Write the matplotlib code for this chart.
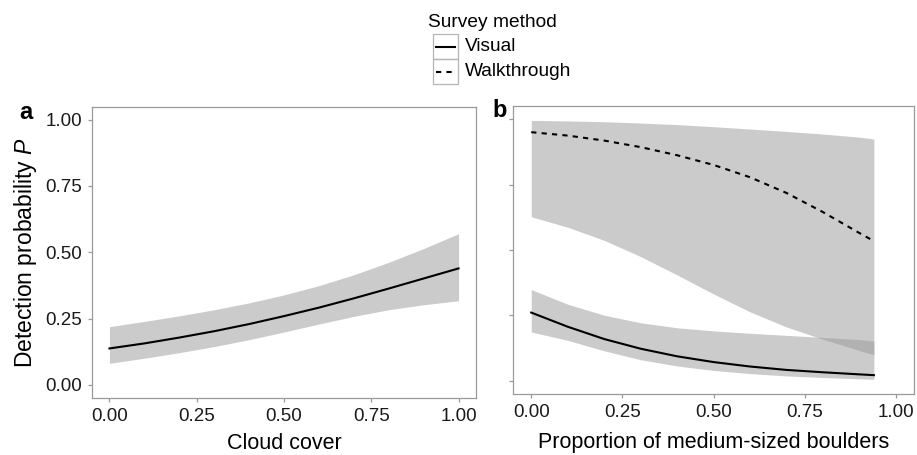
import matplotlib
matplotlib.use("Agg")
import matplotlib.pyplot as plt
from matplotlib.lines import Line2D
from matplotlib.patches import Rectangle

plt.rcParams['font.family'] = ['Liberation Sans', 'DejaVu Sans']
plt.rcParams['mathtext.fontset'] = 'custom'
plt.rcParams['mathtext.it'] = 'Liberation Sans:italic'
plt.rcParams['mathtext.rm'] = 'Liberation Sans'

# Panel a: cloud cover
cloud_x = [0.0, 0.1, 0.2, 0.3, 0.4, 0.5, 0.6, 0.7, 0.8, 0.9, 1.0]
cloud_fit = [0.137, 0.156, 0.178, 0.202, 0.229, 0.259, 0.291, 0.326, 0.363, 0.401, 0.439]
cloud_upper = [0.219, 0.239, 0.260, 0.283, 0.309, 0.339, 0.374, 0.415, 0.462, 0.514, 0.570]
cloud_lower = [0.081, 0.100, 0.121, 0.144, 0.170, 0.199, 0.229, 0.258, 0.283, 0.302, 0.317]

# Panel b: proportion of medium-sized boulders
boulder_x = [0.0, 0.1, 0.2, 0.3, 0.4, 0.5, 0.6, 0.7, 0.8, 0.9, 0.94]
visual_fit = [0.261, 0.207, 0.160, 0.123, 0.094, 0.072, 0.055, 0.042, 0.033, 0.025, 0.022]
visual_upper = [0.349, 0.293, 0.251, 0.222, 0.203, 0.191, 0.182, 0.174, 0.166, 0.158, 0.152]
visual_lower = [0.187, 0.155, 0.115, 0.081, 0.057, 0.040, 0.028, 0.019, 0.013, 0.008, 0.006]
walk_fit = [0.950, 0.937, 0.918, 0.893, 0.862, 0.825, 0.778, 0.718, 0.645, 0.565, 0.534]
walk_upper = [0.995, 0.993, 0.990, 0.985, 0.979, 0.971, 0.962, 0.953, 0.943, 0.931, 0.924]
walk_lower = [0.627, 0.587, 0.537, 0.475, 0.405, 0.332, 0.264, 0.206, 0.159, 0.116, 0.100]

ticks = [0.0, 0.25, 0.5, 0.75, 1.0]
tick_labels = ["0.00", "0.25", "0.50", "0.75", "1.00"]
legend_labels = ["Visual", "Walkthrough"]

W, H = 917, 455
fig = plt.figure(figsize=(W / 100, H / 100), dpi=100)

def fx(px):
    return px / W

def fy(py):
    return 1 - py / H

axa = fig.add_axes([fx(92), fy(398), fx(476) - fx(92), fy(106.5) - fy(398)])
axb = fig.add_axes([fx(513), fy(394), fx(914) - fx(513), fy(106) - fy(394)])

band_kw = dict(color='#999999', alpha=0.5, linewidth=0)

axa.fill_between(cloud_x, cloud_lower, cloud_upper, **band_kw)
axa.plot(cloud_x, cloud_fit, color='black', lw=1.5)

axb.fill_between(boulder_x, walk_lower, walk_upper, **band_kw)
axb.fill_between(boulder_x, visual_lower, visual_upper, **band_kw)
axb.plot(boulder_x, walk_fit, color='black', lw=1.5, ls=(0, (2.5, 2.5)))
axb.plot(boulder_x, visual_fit, color='black', lw=1.5)

for ax in (axa, axb):
    ax.set_xlim(-0.05, 1.05)
    ax.set_ylim(-0.05, 1.05)
    ax.set_xticks(ticks)
    ax.set_xticklabels(tick_labels)
    ax.set_yticks(ticks)
    for s in ax.spines.values():
        s.set_color('#9a9a9a')
        s.set_linewidth(0.9)
    ax.tick_params(colors='#9a9a9a', labelcolor='#1a1a1a', labelsize=13.5,
                   length=3, width=0.9, pad=4)

axa.set_yticklabels(tick_labels)
axb.set_yticklabels([])

axa.set_xlabel("Cloud cover", fontsize=15.5, labelpad=6)
axb.set_xlabel("Proportion of medium-sized boulders", fontsize=15.5, labelpad=8)
axa.set_ylabel("Detection probability $\\mathit{P}$", fontsize=16.5, labelpad=5)

fig.text(fx(19), fy(119), "a", fontsize=17, fontweight='bold', ha='left', va='baseline')
fig.text(fx(492), fy(117), "b", fontsize=17, fontweight='bold', ha='left', va='baseline')

# Legend (manually drawn, ggplot style)
fig.text(fx(428), fy(27), "Survey method", fontsize=13.75, ha='left', va='baseline')
styles = ['-', (0, (2.5, 2.5))]
box_top = [34, 59]
for i, lab in enumerate(legend_labels):
    top = box_top[i]
    fig.patches.append(Rectangle((fx(433), fy(top + 25)), fx(25), fy(top) - fy(top + 25),
                                 transform=fig.transFigure, facecolor='none',
                                 edgecolor='#b5b5b5', linewidth=0.9))
    fig.lines.append(Line2D([fx(436), fx(455)], [fy(top + 12.5)] * 2,
                            transform=fig.transFigure, color='black', lw=1.5,
                            ls=styles[i]))
    fig.text(fx(465), fy(top + 12.5), lab, fontsize=13.75, ha='left', va='center')

fig.savefig("out.png", dpi=100)
